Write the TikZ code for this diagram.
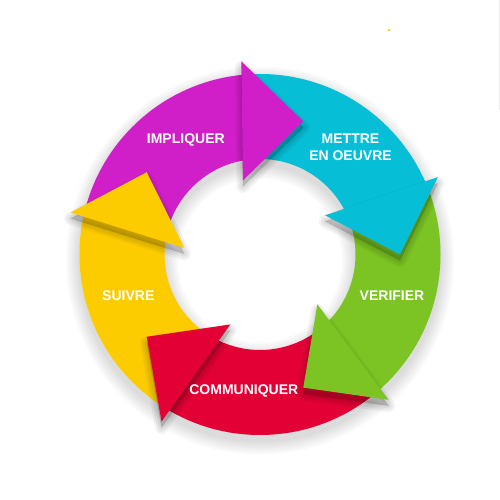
\documentclass[tikz,border=0pt]{standalone}
\usepackage{fontspec}
\setmainfont{Liberation Sans}
\usetikzlibrary{calc}
\definecolor{cmag}{RGB}{208,30,200}
\definecolor{ccya}{RGB}{6,190,214}
\definecolor{cgre}{RGB}{123,196,36}
\definecolor{cred}{RGB}{226,0,52}
\definecolor{cyel}{RGB}{253,204,0}
\definecolor{cdot}{RGB}{255,208,0}
\tikzset{
  lbl/.style={text=white, font=\bfseries\fontsize{14}{17.4}\selectfont, align=center, inner sep=0pt},
  headshadow/.style={fill=black, draw=black, opacity=0.045, line join=round},
}
\begin{document}
\begin{tikzpicture}[x=1pt,y=1pt]
\useasboundingbox (0,0) rectangle (500,500);
\fill[white] (0,0) rectangle (500,500);
\draw[black!7, line width=0.8pt] (499.4,500) -- (499.4,390);
\fill[cdot] (388,469) rectangle (390.3,471.3);
\begin{scope}[shift={(260,245.5)}]
  % key points of the five arrow heads
  \foreach \k in {0,...,4}{
    \pgfmathsetmacro\th{72-72*\k}
    \coordinate (tip\k) at (\th:140);
    \coordinate (bo\k) at (\th+23.5:194);
    \coordinate (bi\k) at (\th+31:76);
    \coordinate (lo\k) at (\th+21.5:194);
    \coordinate (li\k) at (\th+29:76);
  }
  % soft shadow of the ring
  \foreach \i in {1,...,7}{
    \pgfmathsetmacro\ro{180+2*\i}
    \pgfmathsetmacro\ri{96-2*\i}
    \fill[black, opacity=0.018, even odd rule] (0,-6) circle[radius=\ro pt] (0,-6) circle[radius=\ri pt];
  }
  % ring bodies
  \begin{scope}[even odd rule]
    \clip (0,0) circle[radius=180.5pt] (0,0) circle[radius=95.5pt];
    \foreach \k/\p/\c in {0/4/cmag,1/0/ccya,2/1/cgre,3/2/cred,4/3/cyel}{
      \pgfmathsetmacro\th{72-72*\k}
      \fill[\c, nonzero rule] ($(li\p)!1.6!(lo\p)$) -- (\th+80:330) -- (\th+55:330) -- (\th+30:330)
        -- ($(li\k)!1.6!(lo\k)$) -- ($(lo\k)!1.2!(li\k)$) -- (0,0) -- ($(lo\p)!1.2!(li\p)$) -- cycle;
    }
  \end{scope}
  % arrow heads with soft shadows
  \foreach \k/\c in {0/cmag,1/ccya,2/cgre,3/cred,4/cyel}{
    \foreach \w in {13,9,5,1}{
      \filldraw[headshadow, line width=\w pt] ([yshift=-6pt]bo\k) -- ([yshift=-6pt]tip\k) -- ([yshift=-6pt]bi\k) -- cycle;
    }
    \fill[\c] (bo\k) -- (tip\k) -- (bi\k) -- cycle;
  }
\end{scope}
\node[lbl, anchor=base] (impl) at (185.8,356.7) {IMPLIQUER};
\node[lbl] (mett) at (350.5,353) {METTRE\\EN OEUVRE};
\node[lbl, anchor=base] (veri) at (392,199) {VERIFIER};
\node[lbl, anchor=base] (suiv) at (128.3,199) {SUIVRE};
\node[lbl, anchor=base] (comm) at (243.8,105) {COMMUNIQUER};
\end{tikzpicture}
\end{document}
